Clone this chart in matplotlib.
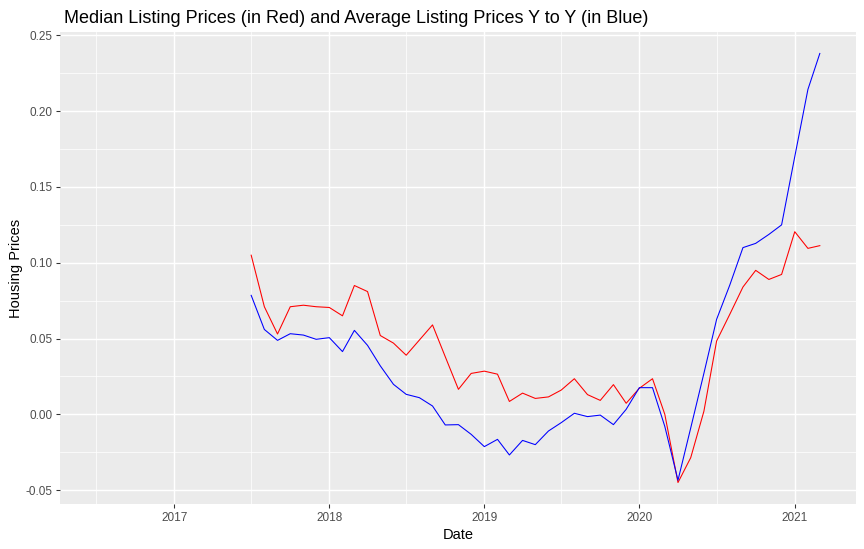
import matplotlib
matplotlib.use("Agg")
import matplotlib.pyplot as plt
import matplotlib.dates as mdates
import numpy as np
import pandas as pd

# ---- data ----
months = [
    "2017-07-01", "2017-08-01", "2017-09-01", "2017-10-01", "2017-11-01", "2017-12-01",
    "2018-01-01", "2018-02-01", "2018-03-01", "2018-04-01", "2018-05-01", "2018-06-01",
    "2018-07-01", "2018-08-01", "2018-09-01", "2018-10-01", "2018-11-01", "2018-12-01",
    "2019-01-01", "2019-02-01", "2019-03-01", "2019-04-01", "2019-05-01", "2019-06-01",
    "2019-07-01", "2019-08-01", "2019-09-01", "2019-10-01", "2019-11-01", "2019-12-01",
    "2020-01-01", "2020-02-01", "2020-03-01", "2020-04-01", "2020-05-01", "2020-06-01",
    "2020-07-01", "2020-08-01", "2020-09-01", "2020-10-01", "2020-11-01", "2020-12-01",
    "2021-01-01", "2021-02-01", "2021-03-01",
]
median_yoy = [
    0.105, 0.071, 0.053, 0.071, 0.072, 0.071,
    0.0705, 0.065, 0.085, 0.081, 0.052, 0.047,
    0.039, 0.049, 0.059, 0.038, 0.0165, 0.027,
    0.0285, 0.0265, 0.0085, 0.014, 0.0105, 0.0115,
    0.016, 0.0235, 0.013, 0.0092, 0.0196, 0.0073,
    0.0172, 0.0235, 0.000, -0.045, -0.0286, 0.002,
    0.0484, 0.066, 0.084, 0.095, 0.089, 0.0923,
    0.1205, 0.1095, 0.1113,
]
average_yoy = [
    0.0785, 0.056, 0.0488, 0.0532, 0.0523, 0.0495,
    0.0506, 0.0414, 0.0554, 0.0455, 0.032, 0.0198,
    0.0132, 0.011, 0.0055, -0.007, -0.0068, -0.0132,
    -0.0213, -0.0165, -0.0268, -0.0172, -0.020, -0.011,
    -0.0055, 0.0007, -0.0015, -0.0005, -0.0068, 0.0033,
    0.0176, 0.0176, -0.008, -0.0435, -0.009, 0.027,
    0.0627, 0.0853, 0.110, 0.1128, 0.1187, 0.1250,
    0.170, 0.2144, 0.2381,
]
# full date column of the source (first year is NA for a Y-to-Y change)
date_start = "2016-07-01"
date_end = "2021-03-01"
x_tick_years = ["2017-01-01", "2018-01-01", "2019-01-01", "2020-01-01", "2021-01-01"]
x_tick_labels = ["2017", "2018", "2019", "2020", "2021"]
x_minor = ["2016-07-01", "2017-07-01", "2018-07-01", "2019-07-01", "2020-07-01"]
y_ticks = [-0.05, 0.00, 0.05, 0.10, 0.15, 0.20, 0.25]
y_tick_labels = ["-0.05", "0.00", "0.05", "0.10", "0.15", "0.20", "0.25"]
y_minor = [-0.025, 0.025, 0.075, 0.125, 0.175, 0.225]

title = "Median Listing Prices (in Red) and Average Listing Prices Y to Y (in Blue)"

# ---- figure ----
W, H, DPI = 864, 549, 96
plt.rcParams["font.family"] = ["Liberation Sans", "DejaVu Sans"]
fig = plt.figure(figsize=(W / DPI, H / DPI), dpi=DPI)
pl, pr, pt, pb = 60, 856, 32, 504
ax = fig.add_axes([pl / W, 1 - pb / H, (pr - pl) / W, (pb - pt) / H])
ax.set_facecolor("#EBEBEB")

x = mdates.date2num(pd.to_datetime(months))
ax.plot(x, median_yoy, color="red", lw=0.8, zorder=3)
ax.plot(x, average_yoy, color="blue", lw=0.8, zorder=3)

# ggplot-like 5% expansion
x0 = mdates.date2num(pd.Timestamp(date_start))
x1 = mdates.date2num(pd.Timestamp(date_end))
span = x1 - x0
ax.set_xlim(x0 - 0.05 * span, x1 + 0.05 * span)
allv = np.array(median_yoy + average_yoy)
lo, hi = allv.min(), allv.max()
r = hi - lo
ax.set_ylim(lo - 0.05 * r, hi + 0.05 * r)

ax.set_xticks(mdates.date2num(pd.to_datetime(x_tick_years)))
ax.set_xticklabels(x_tick_labels)
ax.set_xticks(mdates.date2num(pd.to_datetime(x_minor)), minor=True)
ax.set_yticks(y_ticks)
ax.set_yticklabels(y_tick_labels)
ax.set_yticks(y_minor, minor=True)

ax.grid(which="major", color="white", lw=1.1, zorder=1)
ax.grid(which="minor", color="white", lw=0.55, zorder=1)
ax.set_axisbelow(True)
for s in ax.spines.values():
    s.set_visible(False)

ax.tick_params(which="major", length=3.0, width=0.8, color="#333333",
               labelsize=8.8, labelcolor="#4D4D4D", pad=2.5)
ax.tick_params(axis="x", which="major", pad=3.2)
ax.tick_params(which="minor", length=0)

ax.set_xlabel("Date", fontsize=11, color="black", labelpad=3)
ax.set_ylabel("Housing Prices", fontsize=11, color="black", labelpad=2)

fig.text(64 / W, 1 - 23 / H, title, ha="left", va="baseline",
         fontsize=13.5, color="black")

fig.savefig("out.png", dpi=DPI, facecolor="white")
